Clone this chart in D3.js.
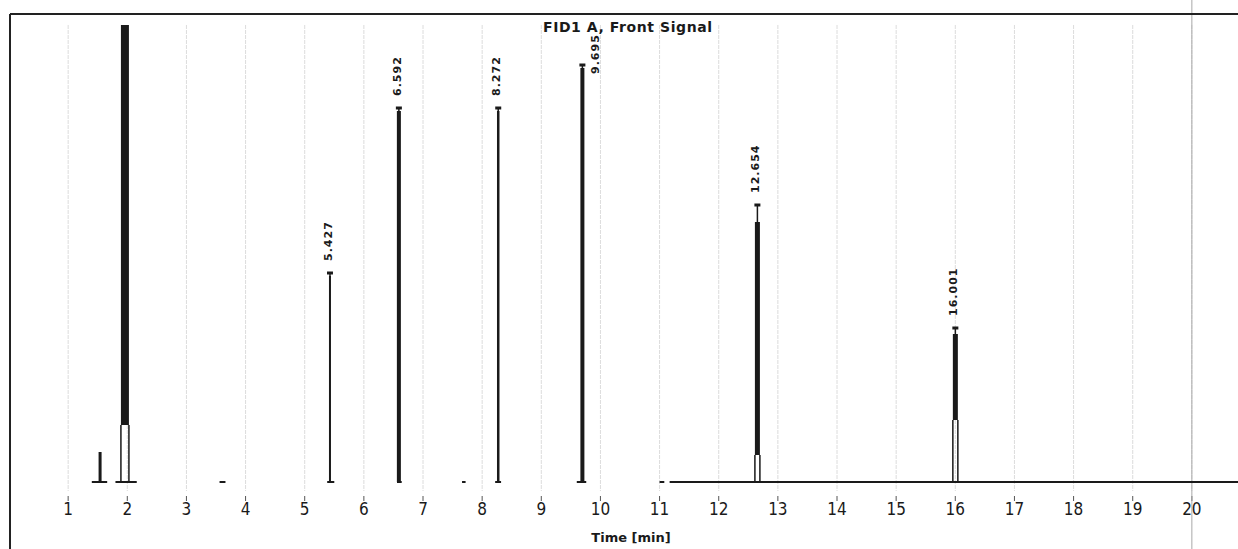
<!DOCTYPE html>
<html>
<head>
<meta charset="utf-8">
<script src="https://cdn.jsdelivr.net/npm/d3@7"></script>
<style>
  body { margin: 0; background: #fff; }
  svg { display: block; }
</style>
</head>
<body>
<svg id="chart" width="1238" height="549"></svg>
<script>
// 保留时间 (min) 与峰高 (任意单位)
let peakTimes = [1.54, 1.96, 5.427, 6.592, 8.272, 9.695, 12.654, 16.001];
let peakHeights = [30, 480, 210, 375, 375, 418, 278, 155];
// 峰内部实心部分的起点高度 (0 = 全部实心)
let peakSolidFrom = [0, 57, 0, 0, 0, 0, 27, 62];
// 峰标注
let labelTimes = ['', '', '5.427', '6.592', '8.272', '9.695', '12.654', '16.001'];
// 可见的基线段
let baselineSegments = [[1.40, 1.66], [1.80, 2.16], [3.56, 3.66], [5.38, 5.50], [6.56, 6.64],
  [7.66, 7.72], [8.22, 8.32], [9.60, 9.76], [11.0, 11.08], [11.17, 20.8]];
let tickValues = d3.range(1, 21);

let svg = d3.select('#chart');
let W = 1238, H = 549;

let x = d3.scaleLinear().domain([0, 20.78]).range([9, 1238]);
let y = d3.scaleLinear().domain([0, 457]).range([482, 25]);

// 网格线
svg.append('g').selectAll('line')
  .data(tickValues)
  .enter()
  .append('line')
  .attr('x1', d => x(d)).attr('x2', d => x(d))
  .attr('y1', 25).attr('y2', 491)
  .attr('stroke', '#dcdcdc')
  .attr('stroke-dasharray', '4,1')
  .attr('stroke-width', 1);

// 刻度小线
svg.append('g').selectAll('line')
  .data(tickValues)
  .enter()
  .append('line')
  .attr('x1', d => x(d)).attr('x2', d => x(d))
  .attr('y1', 496).attr('y2', 501)
  .attr('stroke', '#555')
  .attr('stroke-width', 1);

// 扫描件右侧的竖线
svg.append('line')
  .attr('x1', x(20)).attr('x2', x(20))
  .attr('y1', 0).attr('y2', H)
  .attr('stroke', '#a8a8a8').attr('stroke-width', 1);

// 边框
svg.append('line').attr('x1', 10).attr('x2', W).attr('y1', 14).attr('y2', 14)
  .attr('stroke', '#222').attr('stroke-width', 2);
svg.append('line').attr('x1', 10).attr('x2', 10).attr('y1', 14).attr('y2', H)
  .attr('stroke', '#222').attr('stroke-width', 2);

svg.append('clipPath').attr('id', 'plotClip')
  .append('rect').attr('x', 10).attr('y', 25).attr('width', W - 10).attr('height', 470);

let g = svg.append('g').attr('clip-path', 'url(#plotClip)');

// 基线
g.selectAll('.base')
  .data(baselineSegments)
  .enter()
  .append('line')
  .attr('class', 'base')
  .attr('x1', d => x(d[0])).attr('x2', d => x(d[1]))
  .attr('y1', y(0)).attr('y2', y(0))
  .attr('stroke', '#1a1a1a').attr('stroke-width', 2);

// 峰宽与顶部细线长度 (像素, 样式)
let peakPx = [3, 8, 2, 4, 2.5, 4, 5, 5];
let stemPx = [0, 0, 4, 4, 4, 4, 18, 7];

let peaks = peakTimes.map((t, i) => ({t: t, h: peakHeights[i], s: peakSolidFrom[i], w: peakPx[i], stem: stemPx[i], label: labelTimes[i]}));

// 空心轮廓
g.selectAll('.outline')
  .data(peaks.filter(d => d.s > 0))
  .enter()
  .append('path')
  .attr('class', 'outline')
  .attr('d', d => {
    let l = x(d.t) - d.w / 2, r = x(d.t) + d.w / 2;
    return 'M' + l + ',' + y(0) + 'L' + l + ',' + y(d.s) + 'M' + r + ',' + y(0) + 'L' + r + ',' + y(d.s);
  })
  .attr('fill', 'none')
  .attr('stroke', '#1a1a1a')
  .attr('stroke-width', 1.5);

// 实心部分
g.selectAll('.solid')
  .data(peaks)
  .enter()
  .append('rect')
  .attr('class', 'solid')
  .attr('x', d => x(d.t) - d.w / 2)
  .attr('width', d => d.w)
  .attr('y', d => y(d.h) + d.stem)
  .attr('height', d => y(d.s) - y(d.h) - d.stem)
  .attr('fill', '#1a1a1a');

// 顶部细线与标记
let labeled = peaks.filter(d => d.label);
g.selectAll('.stem')
  .data(labeled)
  .enter()
  .append('line')
  .attr('x1', d => x(d.t)).attr('x2', d => x(d.t))
  .attr('y1', d => y(d.h)).attr('y2', d => y(d.h) + d.stem + 2)
  .attr('stroke', '#1a1a1a').attr('stroke-width', 1.5);

g.selectAll('.cap')
  .data(labeled)
  .enter()
  .append('line')
  .attr('x1', d => x(d.t) - 3).attr('x2', d => x(d.t) + 3)
  .attr('y1', d => y(d.h) + 1).attr('y2', d => y(d.h) + 1)
  .attr('stroke', '#1a1a1a').attr('stroke-width', 3);

// 峰标签 (竖排); 9.695 因标题避让而靠右
svg.selectAll('.plabel')
  .data(labeled)
  .enter()
  .append('text')
  .attr('class', 'plabel')
  .attr('transform', d => {
    let px = x(d.t) - 2, py = y(d.h) - 11;
    if (d.label === '9.695') { px = x(d.t) + 13; py = y(d.h) + 10; }
    return 'translate(' + px + ',' + py + ') rotate(-90)';
  })
  .attr('dy', '0.35em')
  .attr('text-anchor', 'start')
  .attr('font-family', 'DejaVu Sans, sans-serif')
  .attr('font-size', 11)
  .attr('font-weight', 'bold')
  .attr('letter-spacing', 1)
  .attr('fill', '#1a1a1a')
  .text(d => d.label);

// X轴刻度标签
svg.selectAll('.tick')
  .data(tickValues)
  .enter()
  .append('text')
  .attr('x', d => x(d))
  .attr('y', 515)
  .attr('text-anchor', 'middle')
  .attr('font-family', 'Liberation Sans Narrow, DejaVu Sans Condensed, sans-serif')
  .attr('font-size', 17)
  .attr('fill', '#1a1a1a')
  .text(d => d);

// 轴标题
svg.append('text')
  .attr('x', 631).attr('y', 542)
  .attr('text-anchor', 'middle')
  .attr('font-family', 'DejaVu Sans, sans-serif')
  .attr('font-size', 13)
  .attr('font-weight', 'bold')
  .attr('fill', '#1a1a1a')
  .text('Time [min]');

// 标题
svg.append('text')
  .attr('x', 543).attr('y', 32)
  .attr('text-anchor', 'start')
  .attr('textLength', 169)
  .attr('font-family', 'DejaVu Sans, sans-serif')
  .attr('font-size', 14)
  .attr('font-weight', 'bold')
  .attr('fill', '#1a1a1a')
  .text('FID1 A, Front Signal');
</script>
</body>
</html>
